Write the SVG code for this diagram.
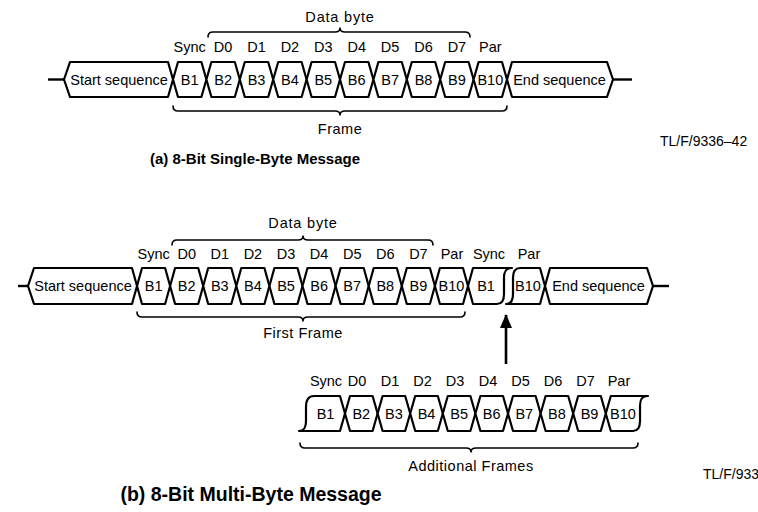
<svg xmlns="http://www.w3.org/2000/svg" width="758" height="512" viewBox="0 0 758 512">
<defs>
<style>
.cell{fill:#fff;stroke:#000;stroke-width:2.2;stroke-linejoin:round}
.t{font-family:"Liberation Sans",Arial,sans-serif;font-size:14.5px;text-anchor:middle;fill:#000}
.brace{fill:none;stroke:#000;stroke-width:1.6;stroke-linecap:round;stroke-linejoin:round}
.lead{fill:none;stroke:#000;stroke-width:2.4}
.cap{font-family:"Liberation Sans",Arial,sans-serif;font-size:15px;font-weight:bold;text-anchor:middle;fill:#000}
.ref{font-family:"Liberation Sans",Arial,sans-serif;font-size:14px;fill:#000}
</style>
<marker id="ah" markerWidth="14" markerHeight="12" refX="13" refY="6" orient="auto" markerUnits="userSpaceOnUse" viewBox="0 0 14 12">
<path d="M14,6 L0,0 L0,12 Z" fill="#000"/>
</marker>
</defs>
<rect width="758" height="512" fill="#fff"/>

<g id="connectors">
<line class="lead" x1="48" y1="79.5" x2="64" y2="79.5"/>
<line class="lead" x1="613" y1="79.5" x2="632" y2="79.5"/>
<line class="lead" x1="18" y1="286" x2="28" y2="286"/>
<line class="lead" x1="653" y1="286" x2="669" y2="286"/>
<line x1="506" y1="364" x2="506" y2="315" stroke="#000" stroke-width="2.6" marker-end="url(#ah)"/>
</g>

<!-- ===== (a) ===== -->
<g id="a-start"><path class="cell" d="M64,79.5 L70,62 L168,62 L173,79.5 L168,97 L70,97 Z"/><text class="t" x="119" y="84.8">Start sequence</text></g>
<g id="a-b1"><path class="cell" d="M173,79.5 L178,62 L201.4,62 L206.4,79.5 L201.4,97 L178,97 Z"/><text class="t" x="189.7" y="84.8">B1</text></g>
<g id="a-b2"><path class="cell" d="M206.4,79.5 L211.4,62 L234.8,62 L239.8,79.5 L234.8,97 L211.4,97 Z"/><text class="t" x="223.1" y="84.8">B2</text></g>
<g id="a-b3"><path class="cell" d="M239.8,79.5 L244.8,62 L268.2,62 L273.2,79.5 L268.2,97 L244.8,97 Z"/><text class="t" x="256.5" y="84.8">B3</text></g>
<g id="a-b4"><path class="cell" d="M273.2,79.5 L278.2,62 L301.6,62 L306.6,79.5 L301.6,97 L278.2,97 Z"/><text class="t" x="289.9" y="84.8">B4</text></g>
<g id="a-b5"><path class="cell" d="M306.6,79.5 L311.6,62 L335,62 L340,79.5 L335,97 L311.6,97 Z"/><text class="t" x="323.3" y="84.8">B5</text></g>
<g id="a-b6"><path class="cell" d="M340,79.5 L345,62 L368.4,62 L373.4,79.5 L368.4,97 L345,97 Z"/><text class="t" x="356.7" y="84.8">B6</text></g>
<g id="a-b7"><path class="cell" d="M373.4,79.5 L378.4,62 L401.8,62 L406.8,79.5 L401.8,97 L378.4,97 Z"/><text class="t" x="390.1" y="84.8">B7</text></g>
<g id="a-b8"><path class="cell" d="M406.8,79.5 L411.8,62 L435.2,62 L440.2,79.5 L435.2,97 L411.8,97 Z"/><text class="t" x="423.5" y="84.8">B8</text></g>
<g id="a-b9"><path class="cell" d="M440.2,79.5 L445.2,62 L468.6,62 L473.6,79.5 L468.6,97 L445.2,97 Z"/><text class="t" x="456.9" y="84.8">B9</text></g>
<g id="a-b10"><path class="cell" d="M473.6,79.5 L478.6,62 L502,62 L507,79.5 L502,97 L478.6,97 Z"/><text class="t" x="490.3" y="84.8">B10</text></g>
<g id="a-end"><path class="cell" d="M507,79.5 L512,62 L607,62 L613,79.5 L607,97 L512,97 Z"/><text class="t" x="559.5" y="84.8">End sequence</text></g>

<g id="a-labels">
<text class="t" x="189.7" y="52">Sync</text>
<text class="t" x="223.1" y="52">D0</text>
<text class="t" x="256.5" y="52">D1</text>
<text class="t" x="289.9" y="52">D2</text>
<text class="t" x="323.3" y="52">D3</text>
<text class="t" x="356.7" y="52">D4</text>
<text class="t" x="390.1" y="52">D5</text>
<text class="t" x="423.5" y="52">D6</text>
<text class="t" x="456.9" y="52">D7</text>
<text class="t" x="490.3" y="52">Par</text>
</g>
<g id="a-databyte">
<path class="brace" d="M208,37 Q208,32 213,32 L335,32 Q340,32 340,28 Q340,32 345,32 L465,32 Q470,32 470,37"/>
<text class="t" x="340" y="22" letter-spacing="0.8">Data byte</text>
</g>
<g id="a-frame">
<path class="brace" d="M173,106 Q173,111 178,111 L335,111 Q340,111 340,115 Q340,111 345,111 L502,111 Q507,111 507,106"/>
<text class="t" x="340" y="134" letter-spacing="0.5">Frame</text>
</g>
<text class="ref" x="660" y="146">TL/F/9336–42</text>
<text class="cap" x="255" y="164">(a) 8-Bit Single-Byte Message</text>

<!-- ===== (b) ===== -->
<g id="b-start"><path class="cell" d="M28,286 L34,268 L132,268 L137,286 L132,304 L34,304 Z"/><text class="t" x="83" y="291.2">Start sequence</text></g>
<g id="b-b1"><path class="cell" d="M137,286 L142,268 L165.1,268 L170.1,286 L165.1,304 L142,304 Z"/><text class="t" x="153.6" y="291.2">B1</text></g>
<g id="b-b2"><path class="cell" d="M170.1,286 L175.1,268 L198.2,268 L203.2,286 L198.2,304 L175.1,304 Z"/><text class="t" x="186.7" y="291.2">B2</text></g>
<g id="b-b3"><path class="cell" d="M203.2,286 L208.2,268 L231.3,268 L236.3,286 L231.3,304 L208.2,304 Z"/><text class="t" x="219.8" y="291.2">B3</text></g>
<g id="b-b4"><path class="cell" d="M236.3,286 L241.3,268 L264.4,268 L269.4,286 L264.4,304 L241.3,304 Z"/><text class="t" x="252.9" y="291.2">B4</text></g>
<g id="b-b5"><path class="cell" d="M269.4,286 L274.4,268 L297.5,268 L302.5,286 L297.5,304 L274.4,304 Z"/><text class="t" x="286" y="291.2">B5</text></g>
<g id="b-b6"><path class="cell" d="M302.5,286 L307.5,268 L330.6,268 L335.6,286 L330.6,304 L307.5,304 Z"/><text class="t" x="319.1" y="291.2">B6</text></g>
<g id="b-b7"><path class="cell" d="M335.6,286 L340.6,268 L363.7,268 L368.7,286 L363.7,304 L340.6,304 Z"/><text class="t" x="352.2" y="291.2">B7</text></g>
<g id="b-b8"><path class="cell" d="M368.7,286 L373.7,268 L396.8,268 L401.8,286 L396.8,304 L373.7,304 Z"/><text class="t" x="385.3" y="291.2">B8</text></g>
<g id="b-b9"><path class="cell" d="M401.8,286 L406.8,268 L429.9,268 L434.9,286 L429.9,304 L406.8,304 Z"/><text class="t" x="418.4" y="291.2">B9</text></g>
<g id="b-b10"><path class="cell" d="M434.9,286 L439.9,268 L463,268 L468,286 L463,304 L439.9,304 Z"/><text class="t" x="451.5" y="291.2">B10</text></g>
<g id="b-b1-next"><path class="cell" d="M468,286 L473,268 L512,268 C506,268 504,271 504,278 L504,294 C504,301 502,304 497,304 L473,304 Z"/><text class="t" x="486" y="291.2">B1</text></g>
<g id="b-b10-last"><path class="cell" d="M545,286 L540,304 L506,304 C511,304 513,301 513,294 L513,278 C513,271 515,268 520,268 L540,268 Z"/><text class="t" x="528" y="291.2">B10</text></g>
<g id="b-end"><path class="cell" d="M545,286 L550,268 L647,268 L653,286 L647,304 L550,304 Z"/><text class="t" x="598.5" y="291.2">End sequence</text></g>

<g id="b-labels">
<text class="t" x="153.6" y="259">Sync</text>
<text class="t" x="186.7" y="259">D0</text>
<text class="t" x="219.8" y="259">D1</text>
<text class="t" x="252.9" y="259">D2</text>
<text class="t" x="286" y="259">D3</text>
<text class="t" x="319.1" y="259">D4</text>
<text class="t" x="352.2" y="259">D5</text>
<text class="t" x="385.3" y="259">D6</text>
<text class="t" x="418.4" y="259">D7</text>
<text class="t" x="452" y="259">Par</text>
<text class="t" x="489" y="259">Sync</text>
<text class="t" x="529" y="259">Par</text>
</g>
<g id="b-databyte">
<path class="brace" d="M172,245 Q172,240 177,240 L298,240 Q303,240 303,236 Q303,240 308,240 L428,240 Q433,240 433,245"/>
<text class="t" x="303" y="228" letter-spacing="0.8">Data byte</text>
</g>
<g id="b-firstframe">
<path class="brace" d="M137,312 Q137,317 142,317 L298,317 Q303,317 303,321 Q303,317 308,317 L460,317 Q465,317 465,312"/>
<text class="t" x="303" y="338" letter-spacing="0.5">First Frame</text>
</g>

<!-- additional frames -->
<g id="c-b1"><path class="cell" d="M345,413.5 L340,431 L299,431 C304,431 306,428 306,420 L306,407 C306,400 308,396 314,396 L340,396 Z"/><text class="t" x="325.5" y="418.7">B1</text></g>
<g id="c-b2"><path class="cell" d="M345,413.5 L350,396 L372.6,396 L377.6,413.5 L372.6,431 L350,431 Z"/><text class="t" x="361.3" y="418.7">B2</text></g>
<g id="c-b3"><path class="cell" d="M377.6,413.5 L382.6,396 L405.2,396 L410.2,413.5 L405.2,431 L382.6,431 Z"/><text class="t" x="393.9" y="418.7">B3</text></g>
<g id="c-b4"><path class="cell" d="M410.2,413.5 L415.2,396 L437.8,396 L442.8,413.5 L437.8,431 L415.2,431 Z"/><text class="t" x="426.5" y="418.7">B4</text></g>
<g id="c-b5"><path class="cell" d="M442.8,413.5 L447.8,396 L470.4,396 L475.4,413.5 L470.4,431 L447.8,431 Z"/><text class="t" x="459.1" y="418.7">B5</text></g>
<g id="c-b6"><path class="cell" d="M475.4,413.5 L480.4,396 L503,396 L508,413.5 L503,431 L480.4,431 Z"/><text class="t" x="491.7" y="418.7">B6</text></g>
<g id="c-b7"><path class="cell" d="M508,413.5 L513,396 L535.6,396 L540.6,413.5 L535.6,431 L513,431 Z"/><text class="t" x="524.3" y="418.7">B7</text></g>
<g id="c-b8"><path class="cell" d="M540.6,413.5 L545.6,396 L568.2,396 L573.2,413.5 L568.2,431 L545.6,431 Z"/><text class="t" x="556.9" y="418.7">B8</text></g>
<g id="c-b9"><path class="cell" d="M573.2,413.5 L578.2,396 L600.8,396 L605.8,413.5 L600.8,431 L578.2,431 Z"/><text class="t" x="589.5" y="418.7">B9</text></g>
<g id="c-b10"><path class="cell" d="M605.8,413.5 L610.8,396 L648,396 C642,396 640,399 640,406 L640,421 C640,428 638,431 633,431 L610.8,431 Z"/><text class="t" x="623" y="418.7">B10</text></g>

<g id="c-labels">
<text class="t" x="326" y="386">Sync</text>
<text class="t" x="357" y="386">D0</text>
<text class="t" x="390" y="386">D1</text>
<text class="t" x="422.5" y="386">D2</text>
<text class="t" x="455" y="386">D3</text>
<text class="t" x="488" y="386">D4</text>
<text class="t" x="520.5" y="386">D5</text>
<text class="t" x="553" y="386">D6</text>
<text class="t" x="585.5" y="386">D7</text>
<text class="t" x="619" y="386">Par</text>
</g>
<g id="c-additional">
<path class="brace" d="M300,443 Q300,448 305,448 L466,448 Q471,448 471,452 Q471,448 476,448 L633,448 Q638,448 638,443"/>
<text class="t" x="471" y="471" letter-spacing="0.5">Additional Frames</text>
</g>
<text class="ref" x="703" y="479">TL/F/933</text>
<text class="cap" x="251" y="501" style="font-size:19.5px">(b) 8-Bit Multi-Byte Message</text>
</svg>
